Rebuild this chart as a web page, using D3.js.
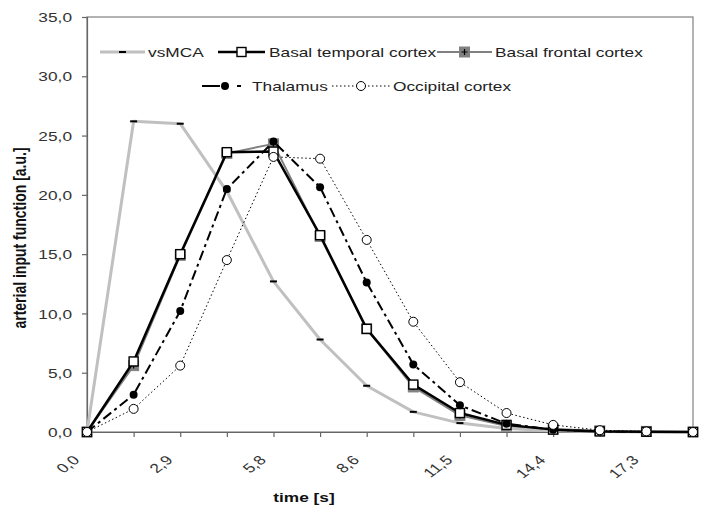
<!DOCTYPE html>
<html>
<head>
<meta charset="utf-8">
<script src="https://cdn.jsdelivr.net/npm/d3@7/dist/d3.min.js"></script>
<style>
  html, body { margin: 0; padding: 0; background: #fff; }
  svg { display: block; font-family: "Liberation Sans", Arial, sans-serif; }
</style>
</head>
<body>
<svg id="chart" width="704" height="506"></svg>
<script>
'use strict';

// time points (s) and the curves
const times = [0, 1.44, 2.88, 4.32, 5.76, 7.2, 8.64, 10.08, 11.52, 12.96, 14.4, 15.84, 17.28, 18.72];
const xTickLabels = ['0,0', '', '2,9', '', '5,8', '', '8,6', '', '11,5', '', '14,4', '', '17,3', ''];
const yTicks = [0, 5, 10, 15, 20, 25, 30, 35];

const vsMCA     = [0, 26.2, 26.0, 20.3, 12.7, 7.8, 3.9, 1.7, 0.75, 0.3, 0.1, 0.05, 0, 0];
const temporal  = [0, 5.95, 15.0, 23.6, 23.65, 16.6, 8.7, 4.0, 1.6, 0.6, 0.2, 0.05, 0.02, 0];
const frontal   = [0, 5.6, 14.9, 23.5, 24.3, 16.5, 8.7, 3.8, 1.4, 0.5, 0.25, 0.1, 0.05, 0];
const thalamus  = [0, 3.15, 10.2, 20.5, 24.5, 20.65, 12.6, 5.7, 2.25, 0.7, 0.2, 0.05, 0, 0];
const occipital = [0, 1.95, 5.6, 14.5, 23.2, 23.05, 16.2, 9.3, 4.2, 1.6, 0.6, 0.15, 0.05, 0];

const STRETCH = 1.33;   // the figure's text is horizontally widened
const M = { left: 87, right: 693, top: 17, bottom: 432 };

const svg = d3.select('#chart');

const x = d3.scaleLinear().domain([0, 18.72]).range([M.left, M.right]);
const y = d3.scaleLinear().domain([0, 35]).range([M.bottom, M.top]);

const deComma = d3.formatLocale({ decimal: ',', thousands: '.', grouping: [3], currency: ['', ''] });
const yFmt = deComma.format('.1f');

// plot frame
svg.append('rect')
  .attr('x', M.left).attr('y', M.top)
  .attr('width', M.right - M.left).attr('height', M.bottom - M.top)
  .attr('fill', 'none').attr('stroke', '#808080').attr('stroke-width', 1.2);

// ----- axes
const yAxis = svg.append('g')
  .attr('transform', `translate(${M.left},0)`)
  .call(d3.axisLeft(y).tickValues(yTicks).tickSize(5).tickFormat(yFmt));

const xAxis = svg.append('g')
  .attr('transform', `translate(0,${M.bottom})`)
  .call(d3.axisBottom(x).tickValues(times).tickSize(5)
    .tickFormat((d, i) => xTickLabels[i]));

[yAxis, xAxis].forEach(g => {
  g.select('.domain').attr('stroke', '#666').attr('stroke-width', 1.2);
  g.selectAll('.tick line').attr('stroke', '#666').attr('stroke-width', 1.2);
  g.selectAll('.tick text').attr('fill', '#333').attr('font-size', 13)
    .attr('font-family', '"Liberation Sans", Arial, sans-serif');
});

yAxis.selectAll('.tick text')
  .attr('x', null).attr('dy', null)
  .attr('dominant-baseline', 'central')
  .attr('text-anchor', 'end')
  .attr('transform', `translate(-15,0) scale(${STRETCH},1)`);

xAxis.selectAll('.tick text')
  .attr('y', null).attr('dy', null)
  .attr('text-anchor', 'end')
  .attr('transform', `translate(-7,29) scale(${STRETCH},1) rotate(-45)`);

// axis titles
svg.append('text')
  .attr('transform', `translate(304,502) scale(${STRETCH},1)`)
  .attr('text-anchor', 'middle')
  .attr('font-size', 13).attr('font-weight', 'bold').attr('fill', '#111')
  .text('time [s]');

svg.append('text')
  .attr('transform', `translate(26,238) scale(${STRETCH},1) rotate(-90)`)
  .attr('text-anchor', 'middle')
  .attr('font-size', 14).attr('font-weight', 'bold').attr('fill', '#111')
  .text('arterial input function [a.u.]');

// ----- series
const series = [
  { name: 'Basal frontal cortex', values: frontal, stroke: '#808080', width: 2, dash: null, marker: 'graySquare' },
  { name: 'vsMCA', values: vsMCA, stroke: '#c0c0c0', width: 3, dash: null, marker: 'dash' },
  { name: 'Basal temporal cortex', values: temporal, stroke: '#000', width: 2.5, dash: null, marker: 'whiteSquare' },
  { name: 'Thalamus', values: thalamus, stroke: '#000', width: 2, dash: '10,4,3,4', marker: 'dot', legendDash: '18,17,4,10' },
  { name: 'Occipital cortex', values: occipital, stroke: '#000', width: 1, dash: '1.5,2.5', marker: 'ring' }
];

const line = d3.line().x((d, i) => x(times[i])).y(d => y(d));

function drawMarker(g, kind, cx, cy) {
  if (kind === 'dash') {
    g.append('rect').attr('x', cx - 3.5).attr('y', cy - 1).attr('width', 7).attr('height', 2).attr('fill', '#000');
  } else if (kind === 'whiteSquare') {
    g.append('rect').attr('x', cx - 4.5).attr('y', cy - 4.5).attr('width', 9).attr('height', 9)
      .attr('fill', '#fff').attr('stroke', '#000').attr('stroke-width', 1.4);
  } else if (kind === 'graySquare') {
    g.append('rect').attr('x', cx - 5).attr('y', cy - 5).attr('width', 10).attr('height', 10)
      .attr('fill', '#808080').attr('stroke', '#808080').attr('stroke-width', 1);
    g.append('path').attr('d', `M${cx - 3},${cy}H${cx + 3}M${cx},${cy - 3}V${cy + 3}`)
      .attr('stroke', '#000').attr('stroke-width', 1.2);
  } else if (kind === 'dot') {
    g.append('circle').attr('cx', cx).attr('cy', cy).attr('r', 4).attr('fill', '#000');
  } else if (kind === 'ring') {
    g.append('circle').attr('cx', cx).attr('cy', cy).attr('r', 4.5)
      .attr('fill', '#fff').attr('stroke', '#000').attr('stroke-width', 1);
  }
}

const plot = svg.append('g');
series.forEach(s => {
  const g = plot.append('g');
  g.append('path')
    .attr('d', line(s.values))
    .attr('fill', 'none')
    .attr('stroke', s.stroke)
    .attr('stroke-width', s.width)
    .attr('stroke-dasharray', s.dash)
    .attr('stroke-linejoin', 'round');
  s.values.forEach((v, i) => drawMarker(g, s.marker, x(times[i]), y(v)));
});

// ----- legend
const legendItems = [
  { s: 'vsMCA', x0: 100, x1: 145, tx: 148, y: 52 },
  { s: 'Basal temporal cortex', x0: 218, x1: 265, tx: 269, y: 52 },
  { s: 'Basal frontal cortex', x0: 437, x1: 492, tx: 495, y: 52 },
  { s: 'Thalamus', x0: 202, x1: 248, tx: 252, y: 86 },
  { s: 'Occipital cortex', x0: 332, x1: 390, tx: 393, y: 86 }
];

const legend = svg.append('g');
legendItems.forEach(it => {
  const s = series.find(d => d.name === it.s);
  const g = legend.append('g');
  g.append('line')
    .attr('x1', it.x0).attr('x2', it.x1).attr('y1', it.y).attr('y2', it.y)
    .attr('stroke', s.stroke).attr('stroke-width', s.width)
    .attr('stroke-dasharray', s.legendDash || s.dash);
  drawMarker(g, s.marker, (it.x0 + it.x1) / 2, it.y);
  g.append('text')
    .attr('transform', `translate(${it.tx},${it.y}) scale(${STRETCH},1)`)
    .attr('dominant-baseline', 'central')
    .attr('font-size', 13).attr('fill', '#222')
    .text(it.s);
});
</script>
</body>
</html>
